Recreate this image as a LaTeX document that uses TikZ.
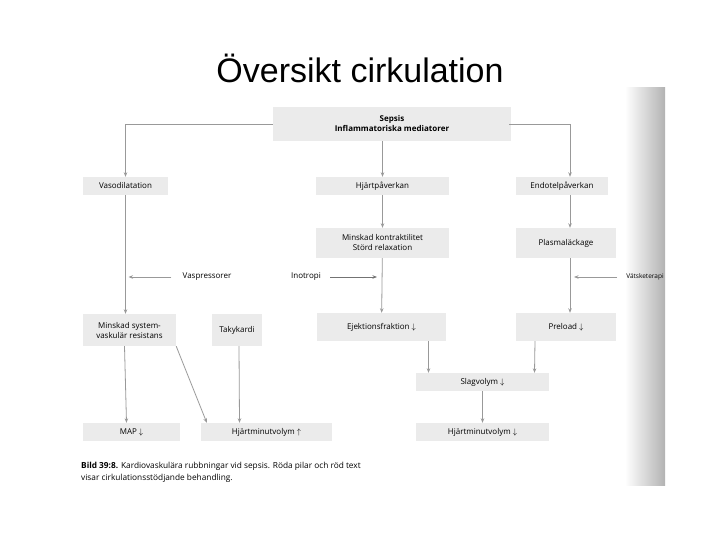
\documentclass[tikz,border=0pt]{standalone}
\usepackage{fontspec}
\setmainfont{Liberation Sans}
\newfontfamily\boxfont{Open Sans}
\usetikzlibrary{arrows.meta}
\tikzset{
 bx/.style={fill=black!8, inner sep=0pt, font=\boxfont\fontsize{8}{10}\selectfont, align=center},
 arr/.style={draw=black!40, line width=0.8pt, -{Stealth[length=4.5pt,width=3.5pt]}},
 lbl/.style={font=\boxfont\fontsize{8}{10}\selectfont, inner sep=1pt},
}
\begin{document}
\begin{tikzpicture}[x=1pt,y=-1pt]
\useasboundingbox (0,0) rectangle (720,540);
\fill[white] (0,0) rectangle (720,540);
\shade[left color=white, right color=black!30] (625,88) rectangle (665,485);
\node[font=\fontsize{34}{38}\selectfont] (title) at (360,68) {Översikt cirkulation};
% boxes
\node[bx, minimum width=238, minimum height=34, font=\boxfont\bfseries\fontsize{8}{10}\selectfont] (sep) at (392,124) {Sepsis\\Inflammatoriska mediatorer};
\node[bx, minimum width=85, minimum height=18] (vaso) at (125.5,186) {Vasodilatation};
\node[bx, minimum width=133, minimum height=18] (hjp) at (382.5,186) {Hjärtpåverkan};
\node[bx, minimum width=92, minimum height=18] (end) at (562,186) {Endotelpåverkan};
\node[bx, minimum width=133, minimum height=30] (mk) at (382.5,243) {Minskad kontraktilitet\\Störd relaxation};
\node[bx, minimum width=100, minimum height=30] (pl) at (566,243) {Plasmaläckage};
\node[bx, minimum width=93, minimum height=32] (msv) at (129.5,330) {Minskad system-\\vaskulär resistans};
\node[bx, minimum width=50, minimum height=32] (tak) at (237,330) {Takykardi};
\node[bx, minimum width=129, minimum height=28] (ej) at (381.5,327) {Ejektionsfraktion $\downarrow$};
\node[bx, minimum width=100, minimum height=28] (pre) at (566,327) {Preload $\downarrow$};
\node[bx, minimum width=133, minimum height=18] (sv) at (482.5,382) {Slagvolym $\downarrow$};
\node[bx, minimum width=97, minimum height=18] (map) at (131.5,432) {MAP $\downarrow$};
\node[bx, minimum width=131, minimum height=18] (hmu) at (266.5,432) {Hjärtminutvolym $\uparrow$};
\node[bx, minimum width=133, minimum height=18] (hmd) at (482.5,432) {Hjärtminutvolym $\downarrow$};
% labels
\node[lbl] (vasp) at (207,277) {Vaspressorer};
\node[lbl, anchor=east] (ino) at (322,277) {Inotropi};
\node[lbl, font=\boxfont\fontsize{6.5}{7}\selectfont] (vat) at (645,277) {Vätsketerapi};
\coordinate (inoend) at (377,277);
\node[lbl, anchor=north west, align=left, font=\boxfont\fontsize{8.3}{12}\selectfont] (cap) at (80,461) {\textbf{Bild 39:8.} Kardiovaskulära rubbningar vid sepsis. Röda pilar och röd text\\visar cirkulationsstödjande behandling.};
% connectors
\draw[arr] (sep.west) -| (vaso.north);
\draw[arr] ([xshift=-2pt]sep.east) -| ([xshift=8pt]end.north);
\draw[arr] (sep.south -| hjp.north) -- (hjp.north);
\draw[arr] (hjp) -- (mk);
\draw[arr] ([xshift=8pt]end.south) -- ([xshift=4pt]pl.north);
\draw[arr] (vaso.south) -- ([xshift=-4pt]msv.north);
\draw[arr] (mk) -- (ej);
\draw[arr] ([xshift=4pt]pl.south) -- ([xshift=4pt]pre.north);
\draw[arr] ([xshift=-10pt]vasp.west) -- ([xshift=3pt]vasp.west -| vaso.south);
\draw[arr, draw=black!55, line width=1pt] ([xshift=8pt]ino.east) -- (inoend);
\draw[arr] ([xshift=-8pt]vat.west) -- ([xshift=8pt]vat.west -| pl.south);
\draw[arr] ([xshift=-5pt]msv.south) -- ([xshift=-5pt]map.north);
\draw[arr] (msv.south east) -- ([xshift=6pt]hmu.north west);
\draw[arr] ([xshift=2pt]tak.south) -- ([xshift=-27pt]hmu.north);
\draw[arr] ([xshift=47pt]ej.south) -- ([xshift=-54pt]sv.north);
\draw[arr] ([xshift=-31pt]pre.south) -- ([xshift=52pt]sv.north);
\draw[arr] (sv) -- (hmd);
\end{tikzpicture}
\end{document}
